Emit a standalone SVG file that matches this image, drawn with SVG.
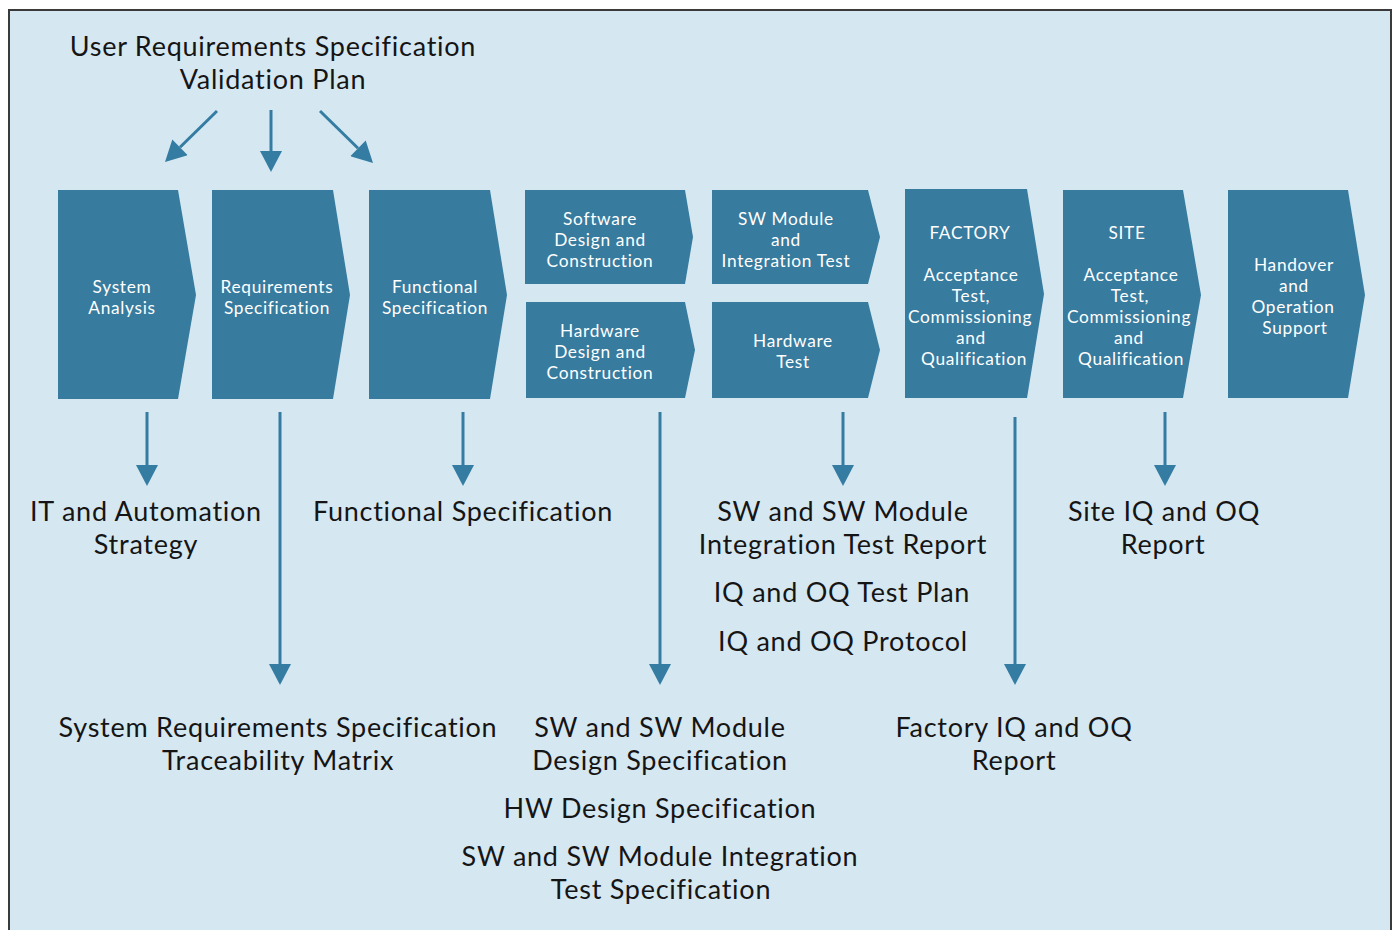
<svg xmlns="http://www.w3.org/2000/svg" width="1395" height="930" viewBox="0 0 1395 930">
<style>
.bg{fill:#d5e8f2;stroke:#3a3a3a;stroke-width:2}
.chev{fill:#377b9e}
.ct{font-family:Lato,"Open Sans",sans-serif;font-size:17.3px;letter-spacing:0.7px;fill:#ffffff;text-anchor:middle}
.lt{font-family:Lato,"Open Sans",sans-serif;font-size:27px;letter-spacing:0.75px;fill:#151515;text-anchor:middle}
.conn{stroke:#347ca2;stroke-width:3;fill:none;marker-end:url(#ah)}
</style>
<defs>
<marker id="ah" markerUnits="userSpaceOnUse" markerWidth="22" markerHeight="22" refX="0" refY="11" orient="auto" viewBox="0 0 21 22">
<path d="M0,0 L21,11 L0,22 Z" fill="#347ca2"/>
</marker>
</defs>
<rect width="1395" height="930" fill="#ffffff"/>
<rect class="bg" x="9" y="10" width="1382" height="940"/>

<g id="title">
<text class="lt"><tspan x="273" y="56">User Requirements Specification</tspan><tspan x="273" y="89">Validation Plan</tspan></text>
</g>

<g id="n-system-analysis">
<path class="chev" d="M58,190 L178,190 L196,295 L178,399 L58,399 Z"/>
<text class="ct"><tspan x="122" y="293">System</tspan><tspan x="122" y="314">Analysis</tspan></text>
</g>
<g id="n-requirements-spec">
<path class="chev" d="M212,190 L333,190 L350,295 L333,399 L212,399 Z"/>
<text class="ct"><tspan x="277" y="293">Requirements</tspan><tspan x="277" y="314">Specification</tspan></text>
</g>
<g id="n-functional-spec">
<path class="chev" d="M369,190 L490,190 L507,295 L490,399 L369,399 Z"/>
<text class="ct"><tspan x="435" y="293">Functional</tspan><tspan x="435" y="314">Specification</tspan></text>
</g>
<g id="n-software-design">
<path class="chev" d="M525,190 L685,190 L693,237 L685,284 L525,284 Z"/>
<text class="ct"><tspan x="600" y="225">Software</tspan><tspan x="600" y="246">Design and</tspan><tspan x="600" y="267">Construction</tspan></text>
</g>
<g id="n-hardware-design">
<path class="chev" d="M526,302 L685,302 L695,350 L685,398 L526,398 Z"/>
<text class="ct"><tspan x="600" y="337">Hardware</tspan><tspan x="600" y="358">Design and</tspan><tspan x="600" y="379">Construction</tspan></text>
</g>
<g id="n-sw-module-test">
<path class="chev" d="M712,190 L868,190 L880,237 L868,284 L712,284 Z"/>
<text class="ct"><tspan x="786" y="225">SW Module</tspan><tspan x="786" y="246">and</tspan><tspan x="786" y="267">Integration Test</tspan></text>
</g>
<g id="n-hardware-test">
<path class="chev" d="M712,302 L868,302 L880,350 L868,398 L712,398 Z"/>
<text class="ct"><tspan x="793" y="347">Hardware</tspan><tspan x="793" y="368">Test</tspan></text>
</g>
<g id="n-factory">
<path class="chev" d="M905,189 L1027,189 L1044,294 L1027,398 L905,398 Z"/>
<text class="ct"><tspan x="970" y="239">FACTORY</tspan><tspan x="971" y="281">Acceptance</tspan><tspan x="971" y="302">Test,</tspan><tspan x="970" y="323">Commissioning</tspan><tspan x="971" y="344">and</tspan><tspan x="974" y="365">Qualification</tspan></text>
</g>
<g id="n-site">
<path class="chev" d="M1063,190 L1183,190 L1201,295 L1183,398 L1063,398 Z"/>
<text class="ct"><tspan x="1127" y="239">SITE</tspan><tspan x="1131" y="281">Acceptance</tspan><tspan x="1130" y="302">Test,</tspan><tspan x="1129" y="323">Commissioning</tspan><tspan x="1129" y="344">and</tspan><tspan x="1131" y="365">Qualification</tspan></text>
</g>
<g id="n-handover">
<path class="chev" d="M1228,190 L1348,190 L1365,295 L1348,398 L1228,398 Z"/>
<text class="ct"><tspan x="1294" y="271">Handover</tspan><tspan x="1294" y="292">and</tspan><tspan x="1293" y="313">Operation</tspan><tspan x="1295" y="334">Support</tspan></text>
</g>

<g id="connectors">
<path class="conn" d="M217,111 L180,147.3"/>
<path class="conn" d="M271,110 L271,151"/>
<path class="conn" d="M320,111 L358,148.3"/>
<path class="conn" d="M147,412 L147,465"/>
<path class="conn" d="M280,412 L280,664"/>
<path class="conn" d="M463,412 L463,465"/>
<path class="conn" d="M660,412 L660,664"/>
<path class="conn" d="M843,412 L843,465"/>
<path class="conn" d="M1015,417 L1015,664"/>
<path class="conn" d="M1165,412 L1165,465"/>
</g>

<g id="d-it-strategy">
<text class="lt"><tspan x="146" y="521">IT and Automation</tspan><tspan x="146" y="554">Strategy</tspan></text>
</g>
<g id="d-functional-spec">
<text class="lt" x="463" y="521">Functional Specification</text>
</g>
<g id="d-sw-test-report">
<text class="lt"><tspan x="843" y="521">SW and SW Module</tspan><tspan x="843" y="554">Integration Test Report</tspan><tspan x="842" y="602">IQ and OQ Test Plan</tspan><tspan x="843" y="651">IQ and OQ Protocol</tspan></text>
</g>
<g id="d-site-report">
<text class="lt"><tspan x="1164" y="521">Site IQ and OQ</tspan><tspan x="1163" y="554">Report</tspan></text>
</g>
<g id="d-system-req">
<text class="lt"><tspan x="278" y="737">System Requirements Specification</tspan><tspan x="278" y="770">Traceability Matrix</tspan></text>
</g>
<g id="d-design-spec">
<text class="lt"><tspan x="660" y="737">SW and SW Module</tspan><tspan x="660" y="770">Design Specification</tspan><tspan x="660" y="818">HW Design Specification</tspan><tspan x="660" y="866">SW and SW Module Integration</tspan><tspan x="661" y="899">Test Specification</tspan></text>
</g>
<g id="d-factory-report">
<text class="lt"><tspan x="1014" y="737">Factory IQ and OQ</tspan><tspan x="1014" y="770">Report</tspan></text>
</g>
</svg>
